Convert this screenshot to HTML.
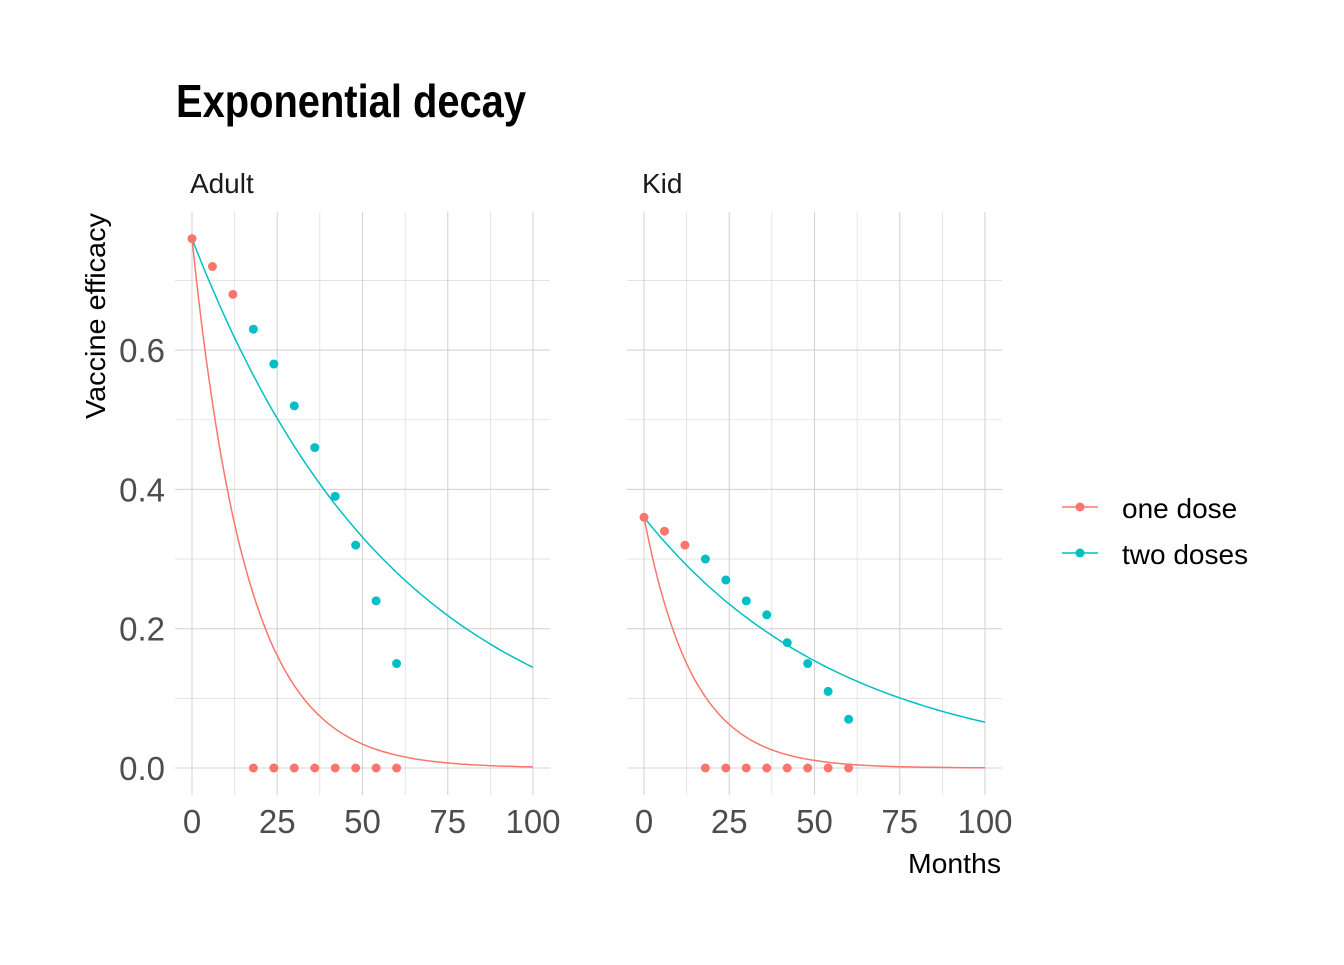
<!DOCTYPE html>
<html><head><meta charset="utf-8"><style>
body{margin:0;background:#fff}
svg{font-family:"Liberation Sans Narrow","Liberation Sans",sans-serif}
</style></head><body>
<svg id="c" width="1344" height="960"></svg>
<script>
const months=[0,6,12,18,24,30,36,42,48,54,60];
const adultOne=[0.76,0.72,0.68,0,0,0,0,0,0,0,0];
const adultTwo=[null,null,null,0.63,0.58,0.52,0.46,0.39,0.32,0.24,0.15];
const kidOne=[0.36,0.34,0.32,0,0,0,0,0,0,0,0];
const kidTwo=[null,null,null,0.30,0.27,0.24,0.22,0.18,0.15,0.11,0.07];
const fitStart=[0.76,0.36];
const fitRateOne=[0.062,0.07];
const fitRateTwo=[0.0166,0.017];
const xTicks=[0,25,50,75,100];
const yTicks=[0,0.2,0.4,0.6];
const panelNames=["Adult","Kid"];
const C1="#F8766D",C2="#00BFC4";
const svg=document.getElementById('c');
const NS="http://www.w3.org/2000/svg";
function mk(t,a,p){const e=document.createElementNS(NS,t);for(const k in a)e.setAttribute(k,a[k]);(p||svg).appendChild(e);return e;}
const yS=v=>768-v*696.5;
const panelsX=[192,644];
const panelTop=212,panelBot=795;
let t=mk('text',{x:176,y:117,'font-size':46,'font-weight':'bold',fill:'#000',textLength:350,lengthAdjust:'spacingAndGlyphs'});t.textContent='Exponential decay';


t=mk('text',{x:0,y:0,'font-size':28,fill:'#000',transform:'translate(105,316) rotate(-90)','text-anchor':'middle',textLength:206,lengthAdjust:'spacingAndGlyphs'});t.textContent='Vaccine efficacy';


t=mk('text',{x:1001,y:873,'font-size':28,fill:'#000','text-anchor':'end',textLength:93,lengthAdjust:'spacingAndGlyphs'});t.textContent='Months';


const series=[[adultOne,adultTwo],[kidOne,kidTwo]];
panelsX.forEach((x0,p)=>{
  const xS=v=>x0+v*3.41;
  const L=xS(-5),R=xS(105);
  const g=mk('g',{});
  
  
  for(let i=0;i<=7;i++){const v=i/10;const major=i%2===0;mk('line',{x1:L,x2:R,y1:yS(v),y2:yS(v),stroke:'#d4d4d4','stroke-width':major?1.1:0.6},g);}
  for(let v=0;v<=100;v+=12.5){const major=v%25===0;mk('line',{x1:xS(v),x2:xS(v),y1:panelTop,y2:panelBot,stroke:'#d4d4d4','stroke-width':major?1.1:0.6},g);}
  xTicks.forEach(v=>{const e=mk('text',{x:xS(v),y:833,'font-size':33,fill:'#4d4d4d','text-anchor':'middle'},g);e.textContent=v;
    
    });
  if(p===0)yTicks.forEach(v=>{const e=mk('text',{x:165,y:yS(v)+12,'font-size':33,fill:'#4d4d4d','text-anchor':'end'},g);e.textContent=v.toFixed(1);
    
    });
  const s=mk('text',{x:L+15,y:193,'font-size':28,fill:'#1a1a1a'},g);s.textContent=panelNames[p];
  
  
  [[fitRateOne[p],C1],[fitRateTwo[p],C2]].forEach(([k,col],i)=>{
    let d='';for(let m=0;m<=100;m+=1){d+=(m?'L':'M')+xS(m).toFixed(1)+','+yS(fitStart[p]*Math.exp(-k*m)).toFixed(1);}
    const pa=mk('path',{d,fill:'none',stroke:col,'stroke-width':1.5},g);
    
    
  });
  series[p].forEach((arr,i)=>{arr.forEach((v,j)=>{if(v===null)return;
    const c=mk('circle',{cx:xS(months[j]),cy:yS(v),r:4.5,fill:i?C2:C1},g);
    
    });});
});
[["one dose",C1,507],["two doses",C2,553]].forEach(([lab,col,yy])=>{
  const g=mk('g',{});
  
  
  mk('line',{x1:1062,x2:1098,y1:yy,y2:yy,stroke:col,'stroke-width':1.5},g);
  mk('circle',{cx:1080,cy:yy,r:4.5,fill:col},g);
  const e=mk('text',{x:1122,y:yy+11,'font-size':28,fill:'#000'},g);e.textContent=lab;
});
</script></body></html>
